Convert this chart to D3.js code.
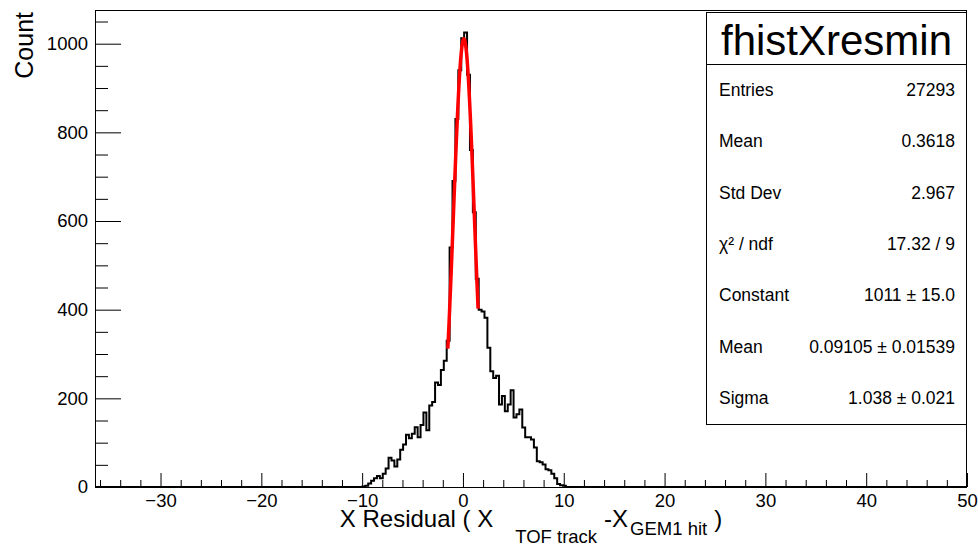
<!DOCTYPE html>
<html>
<head>
<meta charset="utf-8">
<script src="https://cdn.jsdelivr.net/npm/d3@7"></script>
<style>
  body { margin: 0; background: #fff; }
  svg { display: block; font-family: "Liberation Sans", Arial, Helvetica, sans-serif; }
</style>
</head>
<body>
<div id="chart"></div>
<script>
// Histogram binning (fixed-width bins over the axis range)
var xRange = [-36.5, 50];
var nBins = 300;
var yMax = 1076;

// Non-empty bins, starting at bin index firstBin (all other bins are 0)
var firstBin = 92;
var counts = [
  1, 3, 8, 14, 20, 25, 20, 30, 42, 66,
  60, 46, 62, 84, 96, 118, 110, 120, 135, 112,
  140, 168, 128, 184, 192, 236, 230, 264, 285, 330,
  540, 690, 830, 940, 1012, 1025, 930, 760, 620, 470,
  400, 396, 382, 314, 261, 246, 251, 186, 205, 171,
  186, 218, 157, 164, 175, 134, 112, 112, 107, 89,
  58, 56, 51, 40, 38, 30, 20, 7, 4, 3
];

// Gaussian fit (parameters from the stats box)
var fitConstant = 1011;
var fitMean = 0.09105;
var fitSigma = 1.038;
var fitRange = [-1.5, 1.5];

// Axis ticks
var xMajor = [-30, -20, -10, 0, 10, 20, 30, 40, 50];
var yMajor = [0, 200, 400, 600, 800, 1000];

// Stats box
var statTitle = "fhistXresmin";
var statLabels = ["Entries", "Mean", "Std Dev", "\u03c7\u00b2 / ndf", "Constant", "Mean", "Sigma"];
var statValues = ["27293", "0.3618", "2.967", "17.32 / 9", "1011 \u00b1 15.0", "0.09105 \u00b1 0.01539", "1.038 \u00b1 0.021"];

var W = 978, H = 546;
var frame = {left: 95, right: 967, top: 10, bottom: 487};

var svg = d3.select("#chart").append("svg")
    .attr("width", W)
    .attr("height", H);

var x = d3.scaleLinear().domain(xRange).range([frame.left, frame.right]);
var y = d3.scaleLinear().domain([0, yMax]).range([frame.bottom, frame.top]);

// build full bin list
var binWidth = (xRange[1] - xRange[0]) / nBins;
var bins = d3.range(nBins).map(function(i) {
    var j = i - firstBin;
    return {lo: xRange[0] + i * binWidth, c: (j >= 0 && j < counts.length) ? counts[j] : 0};
});
var stepPts = bins.map(function(b) { return [b.lo, b.c]; });
stepPts.push([xRange[1], bins[nBins - 1].c]);

// Histogram outline
svg.append("path")
    .datum(stepPts)
    .attr("fill", "none")
    .attr("stroke", "#000")
    .attr("stroke-width", 2)
    .attr("d", d3.line()
        .x(function(d) { return x(d[0]); })
        .y(function(d) { return y(d[1]); })
        .curve(d3.curveStepAfter));

// Fit curve
var fitPts = d3.range(0, 101).map(function(k) {
    var v = fitRange[0] + k * (fitRange[1] - fitRange[0]) / 100;
    var z = (v - fitMean) / fitSigma;
    return [v, fitConstant * Math.exp(-0.5 * z * z)];
});
svg.append("path")
    .datum(fitPts)
    .attr("fill", "none")
    .attr("stroke", "#ff0000")
    .attr("stroke-width", 3.5)
    .attr("stroke-linejoin", "round")
    .attr("d", d3.line()
        .x(function(d) { return x(d[0]); })
        .y(function(d) { return y(d[1]); }));

// Frame
svg.append("rect")
    .attr("x", frame.left + 0.5)
    .attr("y", frame.top + 0.5)
    .attr("width", frame.right - frame.left - 1)
    .attr("height", frame.bottom - frame.top)
    .attr("fill", "none")
    .attr("stroke", "#000")
    .attr("stroke-width", 1);

// X axis (ticks inside the frame)
var xMinor = d3.range(-36, 50, 2).filter(function(v) { return v % 10 !== 0; });
var xAxis = svg.append("g")
    .attr("transform", "translate(0," + frame.bottom + ")")
    .call(d3.axisBottom(x).tickValues(xMajor).tickSize(-14).tickPadding(7).tickFormat(d3.format("d")));
svg.append("g")
    .attr("transform", "translate(0," + frame.bottom + ")")
    .call(d3.axisBottom(x).tickValues(xMinor).tickSize(-7).tickFormat(""));

// Y axis
var yMinor = d3.range(50, yMax, 50).filter(function(v) { return v % 200 !== 0; });
var yAxis = svg.append("g")
    .attr("transform", "translate(" + frame.left + ",0)")
    .call(d3.axisLeft(y).tickValues(yMajor).tickSize(-26).tickPadding(7).tickFormat(d3.format("d")));
svg.append("g")
    .attr("transform", "translate(" + frame.left + ",0)")
    .call(d3.axisLeft(y).tickValues(yMinor).tickSize(-13).tickFormat(""));

svg.selectAll(".domain").remove();
svg.selectAll(".tick line").attr("stroke", "#000");
svg.selectAll(".tick text")
    .attr("fill", "#000")
    .style("font-size", "18.5px")
    .style("font-family", "'Liberation Sans', Arial, sans-serif");

// Axis titles
svg.append("text")
    .attr("transform", "translate(33,12) rotate(-90)")
    .attr("text-anchor", "end")
    .style("font-size", "25px")
    .text("Count");

var xt = svg.append("text")
    .attr("x", (frame.left + frame.right) / 2)
    .attr("y", 527)
    .attr("text-anchor", "middle")
    .style("font-size", "24px");
xt.append("tspan").text("X Residual ( X");
xt.append("tspan").attr("dx", 22).attr("dy", 16).style("font-size", "18.5px").text("TOF track");
xt.append("tspan").attr("dx", 7).attr("dy", -16).text("-X");
xt.append("tspan").attr("dx", 2).attr("dy", 8).style("font-size", "18.5px").text("GEM1 hit");
xt.append("tspan").attr("dx", 7).attr("dy", -8).text(")");

// Stats box
var box = {left: 706, right: 967, top: 12, bottom: 424, header: 64};
var sg = svg.append("g");
sg.append("rect")
    .attr("x", box.left + 0.5)
    .attr("y", box.top + 0.5)
    .attr("width", box.right - box.left - 1)
    .attr("height", box.bottom - box.top)
    .attr("fill", "#fff")
    .attr("stroke", "#000");
sg.append("line")
    .attr("x1", box.left).attr("x2", box.right - 1)
    .attr("y1", box.header + 0.5).attr("y2", box.header + 0.5)
    .attr("stroke", "#000");
sg.append("text")
    .attr("x", (box.left + box.right) / 2)
    .attr("y", 55)
    .attr("text-anchor", "middle")
    .style("font-size", "42px")
    .text(statTitle);

var rowH = (box.bottom - box.header) / statLabels.length;
sg.selectAll("text.lab")
    .data(statLabels)
  .enter().append("text")
    .attr("class", "lab")
    .attr("x", box.left + 13)
    .attr("y", function(d, i) { return box.header + rowH * i + rowH / 2 + 6; })
    .style("font-size", "17.5px")
    .text(function(d) { return d; });
sg.selectAll("text.val")
    .data(statValues)
  .enter().append("text")
    .attr("class", "val")
    .attr("x", box.right - 12)
    .attr("y", function(d, i) { return box.header + rowH * i + rowH / 2 + 6; })
    .attr("text-anchor", "end")
    .style("font-size", "17.5px")
    .text(function(d) { return d; });
</script>
</body>
</html>
